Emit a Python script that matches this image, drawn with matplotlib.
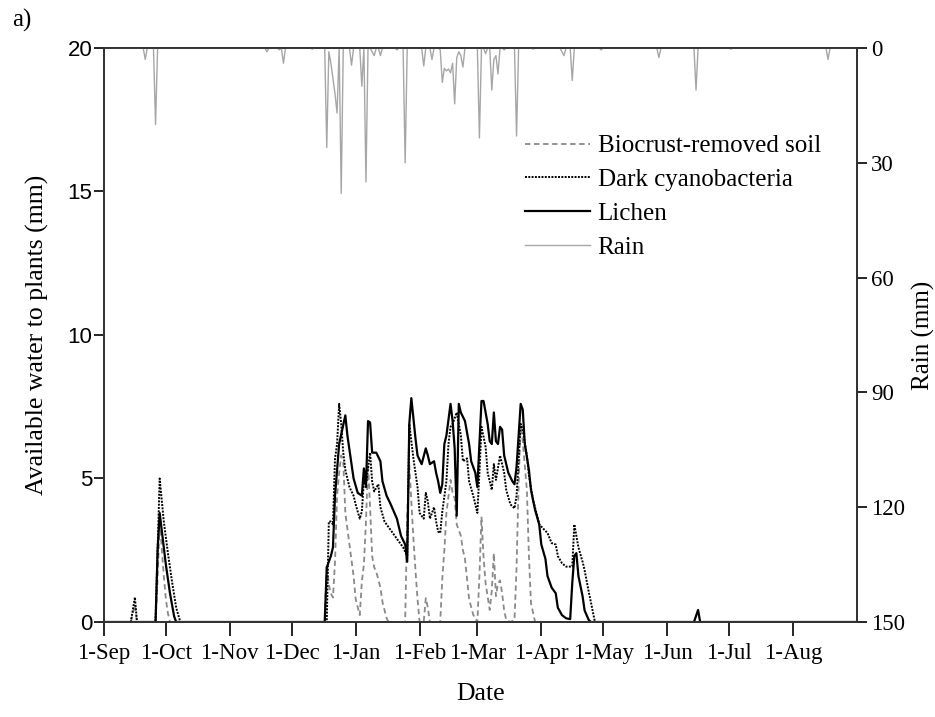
import numpy as np
import pandas as pd
import matplotlib
matplotlib.use("Agg")
import matplotlib.pyplot as plt
import matplotlib.dates as mdates
from matplotlib.ticker import FuncFormatter, MultipleLocator

start = pd.Timestamp("2013-09-01")

# (days since 1-Sep, available water mm)
biocrust_removed = [
    (0, 0), (13, 0), (15, 0.6), (16, 0), (25, 0), (26, 1.5), (27, 3.5), (28, 2.6),
    (29, 1.6), (30, 0.8), (31, 0.3), (32, 0),
    (107, 0), (108, 2.0), (109, 1.3), (110, 1.0), (111, 0.85), (112, 2.1), (113, 4.4),
    (114, 5.2), (115, 5.8), (116, 5.6), (117, 3.8), (119, 2.7), (121, 1.6), (122, 0.8),
    (124, 0.24), (125, 1.4), (126, 2.0), (127, 3.5), (128, 5.5), (129, 4.0), (130, 2.3),
    (131, 1.9), (132, 1.75), (134, 1.2), (135, 0.7), (137, 0.13), (138, 0),
    (146, 0), (147, 3.8), (148, 5.5), (149, 4.2), (150, 2.9), (151, 1.8), (152, 0.8),
    (153, 0), (155, 0), (156, 0.83), (157, 0.5), (158, 0),
    (163, 0), (164, 1.5), (165, 2.5), (166, 3.8), (168, 4.95), (169, 4.5), (170, 4.3),
    (171, 3.4), (173, 3.0), (174, 2.5), (175, 2.2), (176, 1.5), (177, 0.8), (179, 0.25),
    (181, 0), (182, 1.6), (183, 3.67), (184, 2.27), (185, 1.35), (187, 0.42), (188, 1.1),
    (189, 2.4), (190, 0.9), (191, 1.35), (192, 1.45), (193, 1.0), (194, 0.4), (195, 0.07),
    (197, 0), (199, 0.07), (200, 1.9), (201, 4.8), (202, 6.9), (203, 6.3), (205, 4.6),
    (206, 2.3), (207, 0.65), (209, 0), (364, 0),
]

dark_cyanobacteria = [
    (0, 0), (13, 0), (15, 0.86), (16, 0), (25, 0), (26, 2.5), (27, 5.0), (29, 3.5),
    (31, 2.4), (33, 1.4), (35, 0.5), (37, 0),
    (108, 0), (109, 3.5), (110, 3.5), (111, 3.4), (112, 5.7), (113, 6.2), (114, 7.6),
    (115, 6.9), (116, 5.9), (117, 5.3), (119, 4.7), (121, 4.4), (122, 4.1), (124, 3.6),
    (125, 3.85), (126, 4.9), (127, 4.8), (128, 5.35), (129, 5.9), (130, 4.9), (131, 4.55),
    (133, 4.8), (134, 4.0), (136, 3.5), (138, 3.3), (141, 3.0), (143, 2.8), (145, 2.6),
    (147, 2.3), (148, 6.9), (150, 5.7), (152, 4.7), (153, 3.8), (155, 3.6), (156, 4.5),
    (157, 4.2), (158, 3.6), (160, 4.0), (161, 3.5), (162, 3.15), (163, 3.1), (164, 3.85),
    (166, 4.9), (167, 6.2), (168, 6.8), (169, 6.9), (171, 7.3), (173, 6.5), (174, 5.6),
    (176, 5.7), (177, 4.9), (179, 4.4), (181, 3.8), (182, 5.2), (183, 6.8), (185, 6.1),
    (186, 5.2), (188, 4.6), (189, 5.5), (190, 4.95), (192, 5.8), (194, 5.2), (195, 4.6),
    (197, 4.1), (199, 3.96), (200, 4.4), (202, 6.9), (203, 6.7), (205, 5.8), (206, 5.1),
    (208, 4.25), (210, 3.7), (211, 3.4), (215, 3.1), (217, 2.75), (219, 2.7), (220, 2.3),
    (222, 2.05), (224, 1.93), (227, 1.93), (228, 3.4), (230, 2.6), (232, 2.1), (233, 1.8),
    (235, 1.05), (237, 0.35), (238, 0), (364, 0),
]

lichen = [
    (0, 0), (25, 0), (26, 2.5), (27, 3.8), (28, 3.2), (30, 2.0), (32, 1.0), (34, 0.2), (35, 0),
    (107, 0), (108, 1.9), (110, 2.3), (111, 2.6), (112, 4.4), (114, 6.2), (117, 7.2),
    (118, 6.5), (120, 5.5), (121, 5.0), (123, 4.5), (125, 4.4), (126, 5.35), (127, 4.7),
    (128, 7.0), (129, 6.95), (130, 5.9), (132, 5.9), (134, 5.6), (135, 4.9), (137, 4.4),
    (139, 4.1), (142, 3.6), (144, 3.0), (146, 2.7), (147, 2.1), (148, 6.9), (149, 7.8),
    (150, 7.1), (151, 6.4), (152, 5.8), (154, 5.5), (156, 6.05), (157, 5.8), (158, 5.5),
    (160, 5.6), (161, 5.2), (162, 4.9), (163, 4.5), (164, 4.8), (165, 6.2), (166, 6.5),
    (168, 7.6), (169, 7.0), (170, 6.05), (171, 3.7), (172, 7.6), (173, 7.3), (175, 7.0),
    (177, 6.2), (178, 5.6), (180, 5.2), (181, 4.7), (183, 7.7), (184, 7.7), (186, 6.9),
    (187, 6.3), (188, 6.2), (189, 7.3), (190, 6.3), (191, 6.2), (192, 6.8), (193, 6.7),
    (194, 5.8), (196, 5.2), (198, 4.9), (199, 4.8), (200, 5.4), (202, 7.6), (203, 7.4),
    (204, 6.2), (206, 5.3), (207, 4.6), (209, 3.9), (211, 3.4), (212, 2.7), (214, 2.2),
    (215, 1.6), (217, 1.2), (219, 1.0), (220, 0.5), (222, 0.24), (224, 0.13), (226, 0.1),
    (227, 1.35), (228, 2.3), (229, 2.4), (230, 1.6), (232, 0.9), (233, 0.4), (235, 0.07),
    (236, 0), (286, 0), (288, 0.42), (289, 0), (364, 0),
]

# daily rain (mm), days since 1-Sep; all other days are dry
rain_day = [20, 25, 79, 85, 87, 101, 108, 109, 110, 111, 112, 113, 115, 120, 125, 127,
            130, 131, 134, 142, 146, 155, 159, 163, 164, 165, 166, 167, 168, 169, 170,
            171, 172, 173, 174, 182, 185, 188, 189, 190, 191, 194, 200, 208, 222, 223,
            227, 241, 269, 287, 304, 351]
rain_mm = [3, 20, 1, 0.5, 4, 0.3, 26, 1, 4, 8, 12, 17, 38, 4.5, 10, 35,
           1, 2, 2, 0.5, 30, 4.7, 3, 0.5, 9, 5.3, 6, 5.5, 6.5, 4, 14.6,
           2.6, 1, 2, 5, 23.5, 1.5, 11, 3, 2, 6.8, 0.5, 23, 0.3, 1, 2,
           8.5, 0.5, 2.5, 11, 0.3, 3]

# 1st of each month, Sep .. Aug
month_ticks = pd.date_range("2013-09-01", "2014-08-01", freq="MS")


def to_dates(pairs):
    days, vals = zip(*pairs)
    return start + pd.to_timedelta(list(days), unit="D"), list(vals)


serif = "Liberation Serif"
sans = "Liberation Sans"

fig = plt.figure(figsize=(9.35, 7.17), dpi=100)
ax = fig.add_axes([0.1112, 0.1325, 0.8053, 0.8006])
ax2 = ax.twinx()

x, y = to_dates(biocrust_removed)
h1, = ax.plot(x, y, color="#8a8a8a", ls=(0, (3, 2)), lw=1.3, label="Biocrust-removed soil")
x, y = to_dates(dark_cyanobacteria)
h2, = ax.plot(x, y, color="black", ls=(0, (1, 0.7)), lw=1.4, label="Dark cyanobacteria")
x, y = to_dates(lichen)
h3, = ax.plot(x, y, color="black", lw=1.6, label="Lichen")

rain_daily = np.zeros(365)
rain_daily[rain_day] = rain_mm
rain_dates = start + pd.to_timedelta(np.arange(365), unit="D")
h4, = ax2.plot(rain_dates, rain_daily, color="#a6a6a6", lw=1.0, label="Rain")

ax.set_xlim(start, start + pd.Timedelta(days=365))
ax.set_ylim(0, 20)
ax2.set_ylim(150, 0)

ax.set_xticks(month_ticks)
ax.xaxis.set_major_formatter(
    FuncFormatter(lambda v, pos: "1-" + mdates.num2date(v).strftime("%b")))
ax.yaxis.set_major_locator(MultipleLocator(5))
ax2.yaxis.set_major_locator(MultipleLocator(30))

ax.tick_params(axis="x", direction="out", length=10, width=1.2, pad=5)
ax.tick_params(axis="y", direction="out", length=7, width=1.2, pad=1.5)
ax2.tick_params(axis="y", direction="out", length=7, width=1.2, pad=3)

for lab in ax.get_xticklabels():
    lab.set_fontfamily(serif)
    lab.set_fontsize(16.5)
for lab in ax.get_yticklabels():
    lab.set_fontfamily(sans)
    lab.set_fontsize(16)
for lab in ax2.get_yticklabels():
    lab.set_fontfamily(serif)
    lab.set_fontsize(16.5)

for a in (ax, ax2):
    for sp in a.spines.values():
        sp.set_linewidth(1.3)
        sp.set_color("#333333")

ax.set_xlabel("Date", fontfamily=serif, fontsize=18.5, labelpad=14)
ax.set_ylabel("Available water to plants (mm)", fontfamily=serif, fontsize=18.5, labelpad=13)
ax2.set_ylabel("Rain (mm)", fontfamily=serif, fontsize=18, labelpad=5)

ax2.legend([h1, h2, h3, h4], [h.get_label() for h in (h1, h2, h3, h4)],
           loc="upper left", bbox_to_anchor=(0.5615, 0.812), bbox_transform=fig.transFigure,
           frameon=False, prop={"family": serif, "size": 18}, handlelength=2.6,
           handletextpad=0.3, labelspacing=0.45, borderpad=0, borderaxespad=0)

fig.text(0.013, 0.988, "a)", fontfamily=serif, fontsize=18, va="top", ha="left")

fig.savefig("out.png", dpi=100)
